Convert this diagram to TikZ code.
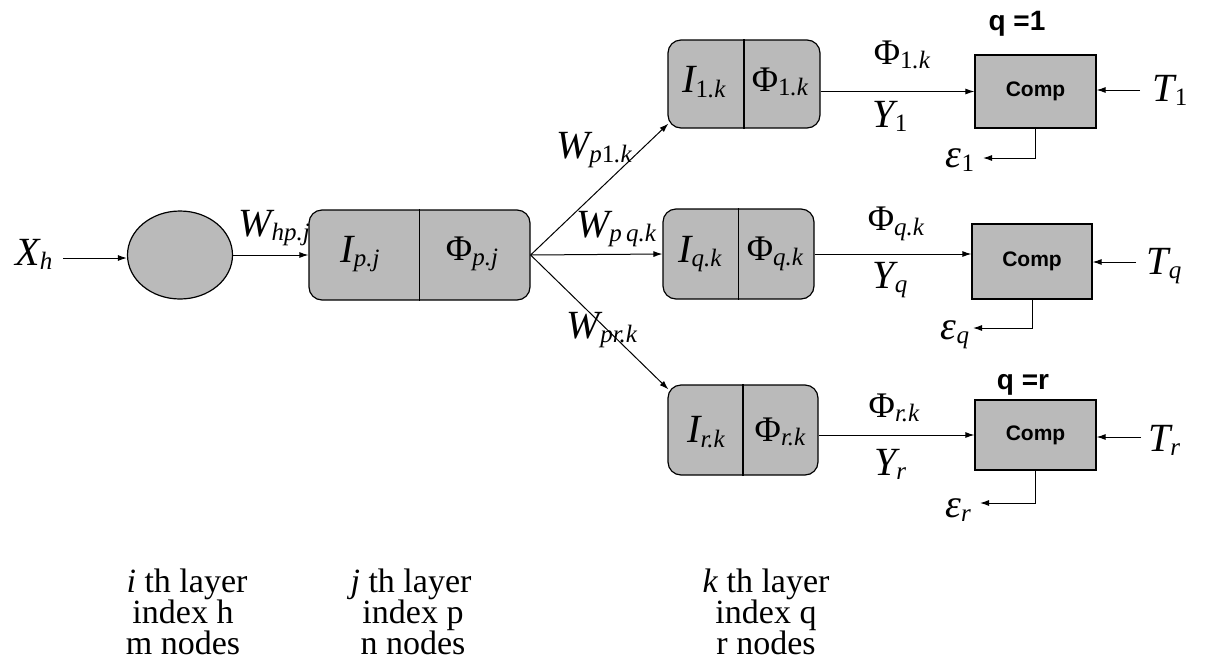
\documentclass[tikz,border=0pt]{standalone}
\usepackage{fontspec}
\setmainfont{Liberation Serif}
\newfontfamily\arialfont{Liberation Sans}
\usetikzlibrary{arrows.meta,calc,shapes.geometric}
\newcommand\mysym[2]{{\fontsize{40}{40}\selectfont\itshape #1}\raisebox{-0.42em}{\fontsize{25}{25}\selectfont\itshape #2}}
\newcommand\myphi[1]{{\fontsize{36}{36}\selectfont Φ}\raisebox{-0.45em}{\fontsize{25}{25}\selectfont\itshape #1}}
\begin{document}
\begin{tikzpicture}[x=1pt,y=-1pt,
  fillc/.style={fill=black!27},
  arr/.style={-{Latex[length=9pt,width=6pt]},line width=1pt},
  splitbox/.style={draw,line width=1.2pt,fillc,rounded corners=13pt,inner sep=0pt},
  compbox/.style={draw,line width=1.2pt,fillc,inner sep=0pt,font=\arialfont\bfseries\fontsize{21}{21}\selectfont},
  qlbl/.style={inner sep=0pt,font=\arialfont\bfseries\fontsize{28}{28}\selectfont},
  lbl/.style={inner sep=0pt},
  bot/.style={anchor=base,font=\fontsize{34}{34}\selectfont,inner sep=0pt}
]
\useasboundingbox (0,0) rectangle (1205,665);
% input
\node[lbl] (xh) at (34,254) {\mysym{X}{h}};
\node[draw,line width=1.2pt,fillc,ellipse,minimum width=105pt,minimum height=88pt,inner sep=0pt] (ell) at (180,255) {};
\draw[arr] (63,258) coordinate (xa) -- (ell.west |- xa);
% hidden layer
\node[splitbox,minimum width=221pt,minimum height=90pt] (pj) at (419.5,255) {};
\draw[line width=1.2pt] (pj.north) -- (pj.south);
\node[lbl] (ipj) at (360,254) {\mysym{I}{p.j}};
\node[lbl] (fpj) at (472,254) {\myphi{p.j}};
\draw[arr] (ell.east) -- (pj.west);
\node[lbl] (whp) at (274,228) {\mysym{W}{hp.j}};
% output boxes
\node[splitbox,minimum width=152pt,minimum height=88pt] (b1) at (744,84) {};
\draw[line width=1.2pt] (b1.north) -- (b1.south);
\node[lbl] at (704,82) {\mysym{I}{\textup{1}.k}};
\node[lbl] at (780,82) {\myphi{\textup{1}.k}};
\node[splitbox,minimum width=151pt,minimum height=90pt] (bq) at (738.5,254) {};
\draw[line width=1.2pt] (bq.north) -- (bq.south);
\node[lbl] at (700,254) {\mysym{I}{q.k}};
\node[lbl] at (775,254) {\myphi{q.k}};
\node[splitbox,minimum width=150pt,minimum height=90pt] (br) at (743,430) {};
\draw[line width=1.2pt] (br.north) -- (br.south);
\node[lbl] at (706,432) {\mysym{I}{r.k}};
\node[lbl] at (780,432) {\myphi{r.k}};
% branches
\draw[arr] (pj.east) -- ($(b1.south west)+(1,-5)$);
\draw[arr] (pj.east) -- (bq.west);
\draw[arr] (pj.east) -- ($(br.north west)+(1,5)$);
\node[lbl] (w1) at (594,150) {\mysym{W}{p\textup{1}.k}};
\node[lbl] (wq) at (616,229) {\mysym{W}{p\,q.k}};
\node[lbl] (wr) at (602,330) {\mysym{W}{pr.k}};
% comparators
\node[compbox,minimum width=121pt,minimum height=73pt] (c1) at (1035.5,91.5) {Comp};
\node[compbox,minimum width=120pt,minimum height=75pt] (cq) at (1032,261.5) {Comp};
\node[compbox,minimum width=121pt,minimum height=70pt] (cr) at (1035.5,435) {Comp};
\node[qlbl] (q1) at (1017,24) {q =1};
\node[qlbl] (qr) at (1023,385) {q =r};
\draw[arr] (b1.east |- c1.west) -- (c1.west);
\draw[arr] (bq.east) -- (bq.east -| cq.west);
\draw[arr] (br.east |- cr.west) -- (cr.west);
\node[lbl] at (902,55) {\myphi{\textup{1}.k}};
\node[lbl] at (890,116) {\mysym{Y}{\textup{1}}};
\node[lbl] at (896,224) {\myphi{q.k}};
\node[lbl] at (890,280) {\mysym{Y}{q}};
\node[lbl] at (894,408) {\myphi{r.k}};
\node[lbl] at (890,464) {\mysym{Y}{r}};
% targets
\node[lbl] (t1) at (1170,90) {\mysym{T}{\textup{1}}};
\node[lbl] (tq) at (1164,266) {\mysym{T}{q}};
\node[lbl] (tr) at (1164,440) {\mysym{T}{r}};
\draw[arr] (1140,90) coordinate (ta) -- (c1.east |- ta);
\draw[arr] (1136,262) coordinate (tb) -- (cq.east |- tb);
\draw[arr] (1141,437) coordinate (tc) -- (cr.east |- tc);
% errors
\node[lbl] (e1) at (960,160) {\mysym{ε}{\textup{1}}};
\node[lbl] (eq) at (955,335) {\mysym{ε}{q}};
\node[lbl] (er) at (958,510) {\mysym{ε}{r}};
\draw[arr] (c1.south) |- (983,158);
\draw[arr] (cq.south) |- (973,328);
\draw[arr] (cr.south) |- (980,503);
% bottom captions
\node[bot] (i1) at (187,592) {\textit{i} th layer};
\node[bot] (i2) at (183,623) {index h};
\node[bot] (i3) at (183,654) {m nodes};
\node[bot] (j1) at (411,592) {\textit{j} th layer};
\node[bot] (j2) at (413,623) {index p};
\node[bot] (j3) at (413,654) {n nodes};
\node[bot] (k1) at (766,592) {\textit{k} th layer};
\node[bot] (k2) at (766,623) {index q};
\node[bot] (k3) at (766,654) {r nodes};
\end{tikzpicture}
\end{document}
